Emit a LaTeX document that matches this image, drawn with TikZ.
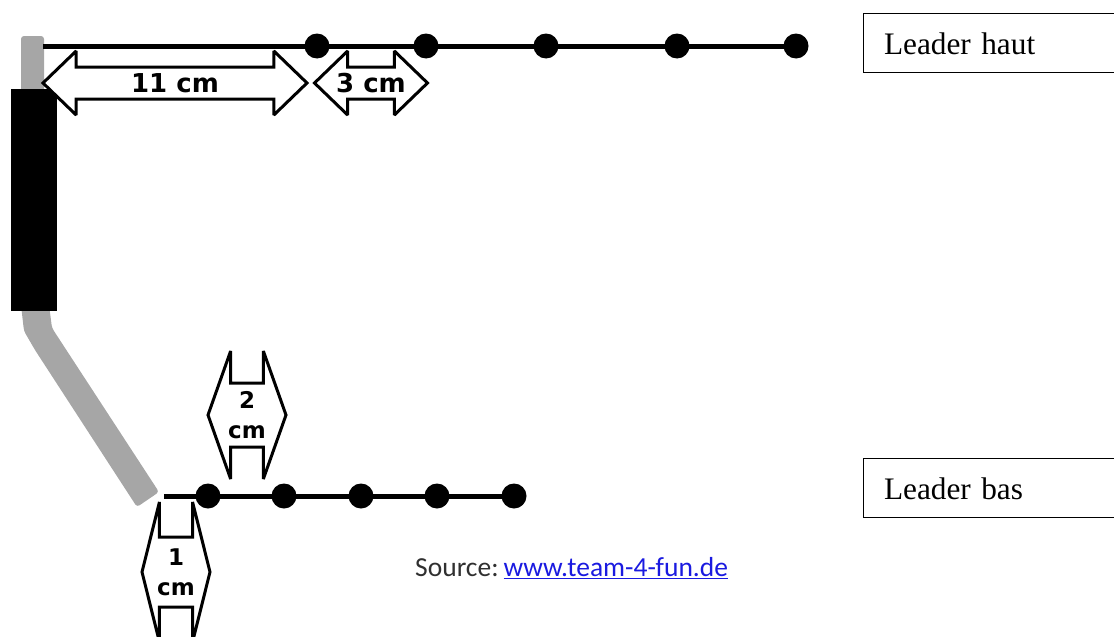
\documentclass[tikz,border=0pt]{standalone}
\usepackage{fontspec}
\setmainfont{Liberation Serif}
\newfontfamily\arrowfont{DejaVu Sans}
\newfontfamily\sourcefont{Carlito}
\usetikzlibrary{shapes.arrows}
\definecolor{rodgray}{HTML}{A6A6A6}
\definecolor{linkblue}{HTML}{1A1AE0}
\definecolor{sourcegray}{HTML}{303030}
\tikzset{
	dot/.style={circle, fill=black, inner sep=0pt, minimum size=25pt},
	wire/.style={line width=5pt},
	rod/.style={fill=rodgray, rounded corners=3pt},
	dblarrow/.style={double arrow, draw=black, fill=white, line width=3pt, miter limit=2, inner xsep=0pt},
	harrow/.style={dblarrow, inner ysep=14.5pt, double arrow head extend=16pt, double arrow tip angle=88},
	leaderbox/.style={draw=black, line width=1pt, anchor=west, align=left, minimum height=59pt, text width=215pt, text height=23.5pt, text depth=0pt, inner xsep=20.5pt, font=\fontsize{31.3}{38}\selectfont}
}
\begin{document}
\begin{tikzpicture}[x=1pt, y=-1pt]
	\useasboundingbox (0, 0) rectangle (1114, 637);

	% rod and handle
	\fill[rod] (21, 36) rectangle (44, 95);
	\fill[rod] (21, 305) -- (24, 331) -- (35, 350) -- (137, 507) -- (159, 492) -- (52, 328) -- (49, 305) -- cycle;
	\fill[black] (11, 89) rectangle (57, 311);

	% top leader
	\coordinate (t0) at (43, 46);
	\node[dot] (t1) at (317, 46) {};
	\node[dot] (t2) at (426, 46) {};
	\node[dot] (t3) at (546, 46) {};
	\node[dot] (t4) at (677, 46) {};
	\node[dot] (t5) at (796, 46) {};
	\draw[wire] (t0) -- (t1.center) -- (t2.center) -- (t3.center) -- (t4.center) -- (t5.center);

	% bottom leader
	\coordinate (b0) at (164, 496);
	\node[dot] (b1) at (208, 496) {};
	\node[dot] (b2) at (284, 496) {};
	\node[dot] (b3) at (361, 496) {};
	\node[dot] (b4) at (437, 496) {};
	\node[dot] (b5) at (514, 496) {};
	\draw[wire] (b0) -- (b1.center) -- (b2.center) -- (b3.center) -- (b4.center) -- (b5.center);

	% distances
	\node[harrow, minimum height=264pt] (a11) at (175, 83) {};
	\node[harrow, minimum height=113pt] (a3) at (371, 83) {};
	\node[dblarrow, inner ysep=30.5pt, minimum height=78pt, double arrow head extend=32pt, double arrow tip angle=141] (a2) at (247, 415) {};
	\node[dblarrow, inner ysep=33.5pt, minimum height=68pt, double arrow head extend=35pt, double arrow tip angle=152] (a1) at (176, 572) {};
	\node[font=\arrowfont\bfseries\fontsize{26}{30}\selectfont, inner sep=0pt] (l11) at (a11) {11 cm};
	\node[font=\arrowfont\bfseries\fontsize{26}{30}\selectfont, inner sep=0pt] (l3) at (a3) {3 cm};
	\node[font=\arrowfont\bfseries\fontsize{23}{30}\selectfont, align=center, inner sep=0pt] (l2) at (a2) {2\\cm};
	\node[font=\arrowfont\bfseries\fontsize{23}{30}\selectfont, align=center, inner sep=0pt] (l1) at (a1) {1\\cm};

	% legend
	\node[leaderbox] (haut) at (863, 42.5) {Leader haut};
	\node[leaderbox] (bas) at (863, 487.5) {Leader bas};
	\node[anchor=west, inner sep=0pt, font=\sourcefont\fontsize{27.5}{30}\selectfont, text=sourcegray] (source) at (415, 568) {Source:\hspace{5pt}\textcolor{linkblue}{\underline{www.team-4-fun.de}}};
\end{tikzpicture}
\end{document}
